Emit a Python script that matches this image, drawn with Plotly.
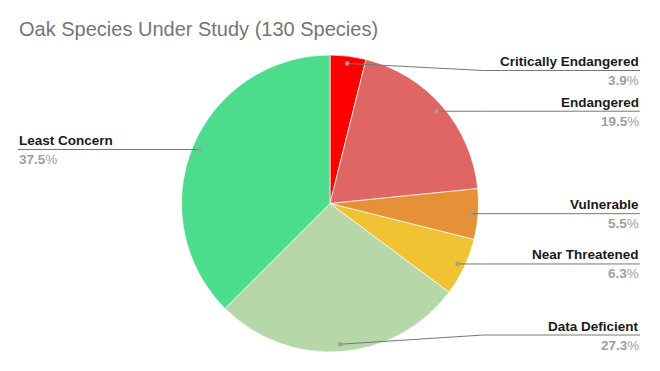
import math
import plotly.graph_objects as go

# ---- data ----
categories = ["Critically Endangered", "Endangered", "Vulnerable",
              "Near Threatened", "Data Deficient", "Least Concern"]
percent_values = [3.9, 19.5, 5.5, 6.3, 27.3, 37.5]
slice_colors = ["#FF0000", "#E06666", "#E69138", "#F1C232", "#B6D7A8", "#4DDC8C"]
title_text = "Oak Species Under Study (130 Species)"

# ---- layout geometry (pixels) ----
W, H = 660, 371
cx, cy, R = 330.0, 203.5, 148.5
dot_r = 0.95 * R
label_right_x, label_left_x = 640, 18
y_min, y_max = cy - R + 15.5, cy + R - 17


def px(x):
    return x / W


def py(y):
    return 1 - y / H


fig = go.Figure()
fig.add_trace(go.Pie(
    labels=categories,
    values=percent_values,
    sort=False,
    direction="clockwise",
    rotation=0,
    marker=dict(colors=slice_colors, line=dict(color="white", width=0.7)),
    textinfo="none",
    textposition="none",
    hoverinfo="label+percent",
    showlegend=False,
    domain=dict(x=[px(cx - R), px(cx + R)], y=[py(cy + R), py(cy - R)]),
))

shapes = []
annotations = []
total = sum(percent_values)
cum = 0.0
for name, v in zip(categories, percent_values):
    mid = (cum + v / 2) / total
    cum += v
    th = 2 * math.pi * mid
    dx = cx + dot_r * math.sin(th)
    dy = cy - dot_r * math.cos(th)
    right = math.sin(th) > 0
    ly = min(max(dy, y_min), y_max)
    if right:
        ex = max(cx + R + 5, dx)
        endx = label_right_x
    else:
        ex = min(cx - R - 5, dx)
        endx = label_left_x
    path = f"M {px(dx)},{py(dy)} L {px(ex)},{py(ly)} L {px(endx)},{py(ly)}"
    shapes.append(dict(type="path", path=path, xref="paper", yref="paper",
                       line=dict(color="#777777", width=1), layer="above"))
    rr = 2.2
    shapes.append(dict(type="circle", xref="paper", yref="paper",
                       x0=px(dx - rr), x1=px(dx + rr), y0=py(dy + rr), y1=py(dy - rr),
                       fillcolor="#9E9E9E", line=dict(width=0), layer="above"))
    anchor = "right" if right else "left"
    annotations.append(dict(
        x=px(endx), y=py(ly - 0.5), xref="paper", yref="paper",
        xanchor=anchor, yanchor="bottom", showarrow=False,
        text=f"<b>{name}</b>",
        font=dict(family="Liberation Sans, Arial", size=13.5, color="#1A1A1A"),
        borderpad=0,
    ))
    annotations.append(dict(
        x=px(endx), y=py(ly + 1.5), xref="paper", yref="paper",
        xanchor=anchor, yanchor="top", showarrow=False,
        text=f"<b>{v:.1f}</b>%",
        font=dict(family="Liberation Sans, Arial", size=13.5, color="#9E9E9E"),
        borderpad=0,
    ))

annotations.append(dict(
    x=px(18), y=py(41), xref="paper", yref="paper",
    xanchor="left", yanchor="bottom", showarrow=False,
    text=title_text,
    font=dict(family="Liberation Sans, Arial", size=20, color="#757575"),
    borderpad=0,
))

fig.update_layout(
    width=W, height=H,
    margin=dict(l=0, r=0, t=0, b=0),
    paper_bgcolor="white",
    plot_bgcolor="white",
    shapes=shapes,
    annotations=annotations,
    showlegend=False,
)

fig.write_html("out.html", config={"displayModeBar": False},
               post_script="document.body.style.margin='0';")
